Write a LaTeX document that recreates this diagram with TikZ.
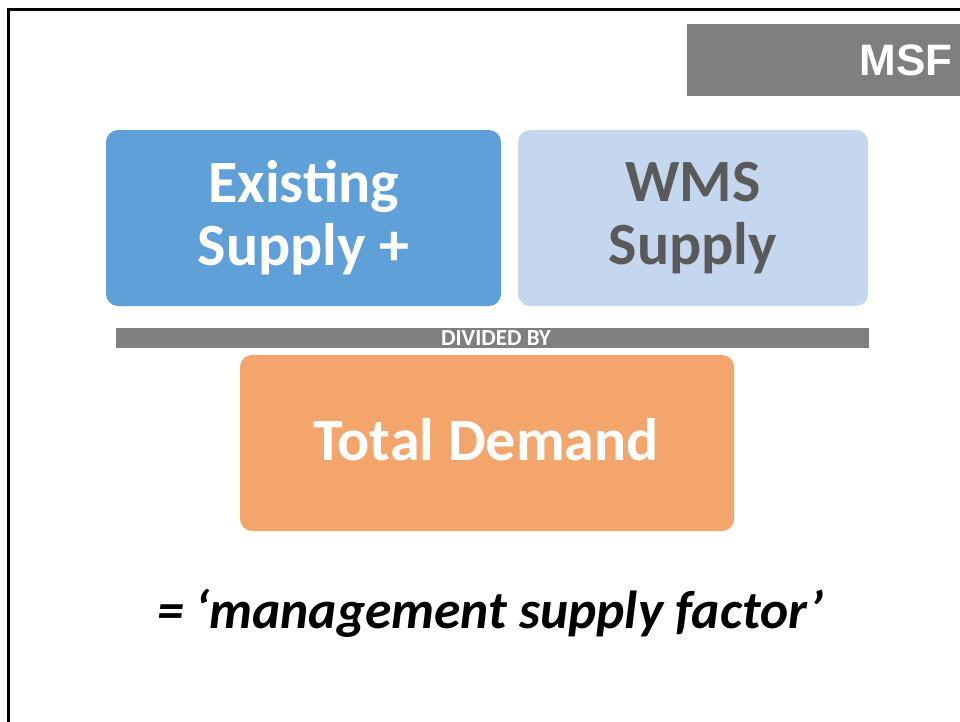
\documentclass[tikz,border=0pt]{standalone}
\usepackage{fontspec}
\setmainfont{Carlito}
\newfontfamily\arialfont{Liberation Sans}
\definecolor{boxblue}{HTML}{5FA0D8}
\definecolor{boxlight}{HTML}{C5D7EE}
\definecolor{boxorange}{HTML}{F4A56C}
\definecolor{bargray}{HTML}{7F7F7F}
\definecolor{wmstext}{HTML}{5A5A5A}
\begin{document}
\begin{tikzpicture}[x=1pt,y=-1pt,
  card/.style={rounded corners=12pt, inner sep=0pt, align=center,
    font=\fontsize{60}{63}\selectfont\bfseries},
]
\useasboundingbox (0,0) rectangle (960,721);
\begin{scope}
\clip (0,0) rectangle (960,721);
\draw[line width=3pt] (8.5,9.5) rectangle (1000,800);
\node[fill=bargray, minimum width=280pt, minimum height=72pt, inner sep=0pt] (msfbox) at (827,60) {};
\end{scope}
\node[anchor=base east, text=white, font=\arialfont\bfseries\fontsize{44}{44}\selectfont, inner sep=0pt] (msf) at (953,75) {MSF};
\node[card, fill=boxblue, text=white, minimum width=395pt, minimum height=176pt] (exist) at (303.5,218) {Existing\\Supply +};
\node[card, fill=boxlight, text=wmstext, minimum width=350pt, minimum height=176pt] (wms) at (693,218) {WMS\\Supply};
\node[fill=bargray, minimum width=753pt, minimum height=20pt, inner sep=0pt] (bar) at (492.5,338) {};
\node[text=white, font=\fontsize{23}{23}\selectfont\bfseries, inner sep=0pt, anchor=base] (divby) at (496,345) {DIVIDED BY};
\node[fill=boxorange, rounded corners=12pt, minimum width=494pt, minimum height=176pt, inner sep=0pt] (total) at (487,443) {};
\node[text=white, font=\fontsize{60}{60}\selectfont\bfseries, inner sep=0pt, anchor=base] (totaltext) at (486,460) {Total Demand};
\node[font=\fontsize{53.5}{53.5}\selectfont\bfseries\itshape, anchor=base, inner sep=0pt] (msfact) at (490,628) {= ‘management supply factor’};
\end{tikzpicture}
\end{document}
